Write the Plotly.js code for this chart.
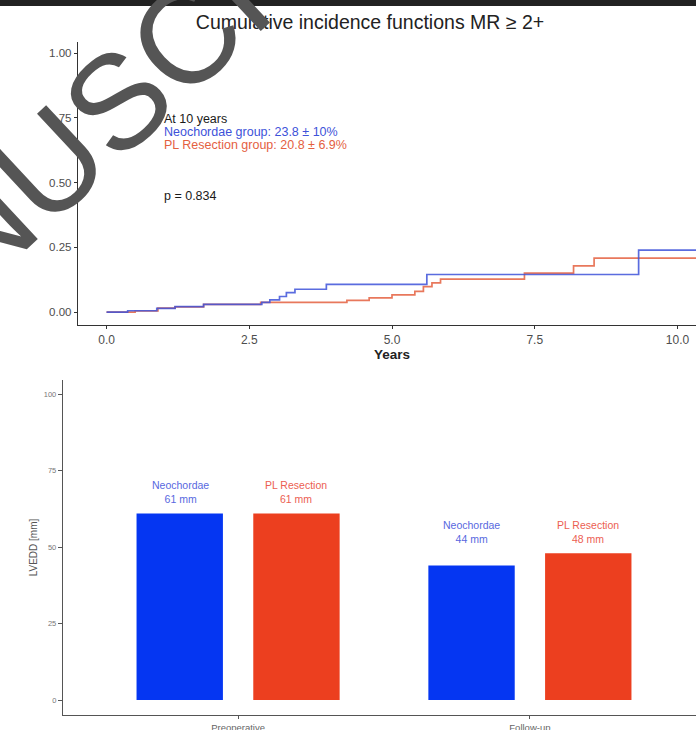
<!DOCTYPE html>
<html>
<head>
<meta charset="utf-8">
<script src="https://cdn.plot.ly/plotly-3.0.1.min.js"></script>
<style>
  html, body { margin: 0; padding: 0; background: #ffffff; overflow: hidden; }
  #chart { width: 712px; height: 730px; }
</style>
</head>
<body>
<div id="chart"></div>
<script>
// ---- Top panel: cumulative incidence (step functions) ----
const neoTime = [0, 0.37, 0.88, 1.2, 1.7, 2.72, 2.86, 3.03, 3.15, 3.3, 3.85, 5.61, 9.32, 10.4];
const neoCif  = [0, 0.005, 0.014, 0.021, 0.03, 0.037, 0.047, 0.06, 0.075, 0.088, 0.107, 0.145, 0.239, 0.239];

const plTime = [0, 0.5, 0.9, 1.2, 1.7, 2.7, 4.21, 4.6, 5.0, 5.4, 5.55, 5.7, 5.85, 7.32, 8.18, 8.54, 10.4];
const plCif  = [0, 0.004, 0.015, 0.02, 0.03, 0.037, 0.045, 0.055, 0.066, 0.08, 0.098, 0.113, 0.127, 0.15, 0.178, 0.208, 0.208];

const cifTickVals = [0, 2.5, 5, 7.5, 10];
const cifTickText = ['0.0', '2.5', '5.0', '7.5', '10.0'];
const cifYTickVals = [0, 0.25, 0.5, 0.75, 1];
const cifYTickText = ['0.00', '0.25', '0.50', '0.75', '1.00'];

// ---- Bottom panel: LVEDD bars ----
const groups = ['Preoperative', 'Follow-up'];
const neoLvedd = [61, 44];
const plLvedd = [61, 48];
const lveddTickVals = [0, 25, 50, 75, 100];

const W = 712, H = 730;
const fx = p => p / W;
const fy = p => 1 - p / H;

const blueLine = '#3d52d9';
const redLine = '#e4603f';
const blueBar = '#0536f2';
const redBar = '#ec3f1f';

const traces = [
  { x: plTime, y: plCif, type: 'scatter', mode: 'lines', line: { shape: 'hv', color: redLine, width: 1.7 }, opacity: 0.85, xaxis: 'x', yaxis: 'y', showlegend: false, hoverinfo: 'skip' },
  { x: neoTime, y: neoCif, type: 'scatter', mode: 'lines', line: { shape: 'hv', color: blueLine, width: 1.7 }, opacity: 0.85, xaxis: 'x', yaxis: 'y', showlegend: false, hoverinfo: 'skip' },
  { x: groups, y: neoLvedd, type: 'bar', name: 'Neochordae', marker: { color: blueBar }, xaxis: 'x2', yaxis: 'y2', showlegend: false, hoverinfo: 'skip' },
  { x: groups, y: plLvedd, type: 'bar', name: 'PL Resection', marker: { color: redBar }, xaxis: 'x2', yaxis: 'y2', showlegend: false, hoverinfo: 'skip' }
];

const font = 'Liberation Sans, Arial, sans-serif';
const annotations = [
  // watermark (drawn first, behind the other texts)
  { text: 'MANUSCRIPT', xref: 'paper', yref: 'paper', x: fx(120), y: fy(98), xanchor: 'center', yanchor: 'middle', showarrow: false, textangle: -43, font: { family: font, size: 134, color: '#555555' } },
  { text: 'At 10 years', xref: 'x', yref: 'y', x: 0.98, y: 0.747, xanchor: 'left', yanchor: 'middle', showarrow: false, font: { family: font, size: 12.5, color: '#1a1a1a' } },
  { text: 'Neochordae group: 23.8 \u00b1 10%', xref: 'x', yref: 'y', x: 0.98, y: 0.697, xanchor: 'left', yanchor: 'middle', showarrow: false, font: { family: font, size: 12.5, color: '#3d52d9' } },
  { text: 'PL Resection group: 20.8 \u00b1 6.9%', xref: 'x', yref: 'y', x: 0.98, y: 0.645, xanchor: 'left', yanchor: 'middle', showarrow: false, font: { family: font, size: 12.5, color: '#e4603f' } },
  { text: 'p = 0.834', xref: 'x', yref: 'y', x: 0.98, y: 0.448, xanchor: 'left', yanchor: 'middle', showarrow: false, font: { family: font, size: 12.5, color: '#1a1a1a' } }
];

groups.forEach((g, i) => {
  const top = Math.max(neoLvedd[i], plLvedd[i]) + 7;
  annotations.push({ text: 'Neochordae<br>' + neoLvedd[i] + ' mm', xref: 'x2', yref: 'y2', x: i, y: top, xshift: -58, xanchor: 'center', yanchor: 'middle', showarrow: false, font: { family: font, size: 10.5, color: '#5868e0' } });
  annotations.push({ text: 'PL Resection<br>' + plLvedd[i] + ' mm', xref: 'x2', yref: 'y2', x: i, y: top, xshift: 58, xanchor: 'center', yanchor: 'middle', showarrow: false, font: { family: font, size: 10.5, color: '#ec5e52' } });
});

const layout = {
  width: W, height: H,
  margin: { l: 0, r: 0, t: 0, b: 0, pad: 0 },
  paper_bgcolor: '#ffffff', plot_bgcolor: '#ffffff',
  font: { family: font, color: '#333' },
  showlegend: false,
  barmode: 'group', bargap: 0.2, bargroupgap: 0.26,
  title: { text: 'Cumulative incidence functions MR \u2265 2+', x: fx(370), xanchor: 'center', y: fy(22), yanchor: 'middle', font: { family: font, size: 19.5, color: '#222' } },
  xaxis: {
    domain: [fx(78), fx(706)], anchor: 'y', range: [-0.5, 10.5],
    tickvals: cifTickVals, ticktext: cifTickText,
    showline: true, linecolor: '#333', linewidth: 1.2, ticks: 'outside', ticklen: 3, tickcolor: '#333', tickwidth: 1,
    showgrid: false, zeroline: false, tickfont: { family: font, size: 12, color: '#4d4d4d' },
    title: { text: '<b>Years</b>', font: { family: font, size: 13.5, color: '#222' }, standoff: 1 }
  },
  yaxis: {
    domain: [fy(325), fy(42)], anchor: 'x', range: [-0.05, 1.043],
    tickvals: cifYTickVals, ticktext: cifYTickText,
    showline: true, linecolor: '#333', linewidth: 1.2, ticks: 'outside', ticklen: 3, tickcolor: '#333', tickwidth: 1,
    showgrid: false, zeroline: false, tickfont: { family: font, size: 11.5, color: '#4d4d4d' }
  },
  xaxis2: {
    domain: [fx(63), fx(705)], anchor: 'y2', type: 'category', range: [-0.6, 1.6],
    showline: true, linecolor: '#555', linewidth: 1.2, ticks: 'outside', ticklen: 3, tickcolor: '#555',
    showgrid: false, zeroline: false, tickfont: { family: font, size: 9.5, color: '#666' }
  },
  yaxis2: {
    domain: [fy(715), fy(380)], anchor: 'x2', range: [-4.9, 104.6],
    tickvals: lveddTickVals,
    showline: true, linecolor: '#555', linewidth: 1.2, ticks: 'outside', ticklen: 4, tickcolor: '#555',
    showgrid: false, zeroline: false, tickfont: { family: font, size: 7.5, color: '#777' },
    title: { text: 'LVEDD [mm]', font: { family: font, size: 10, color: '#555' }, standoff: 4 }
  },
  shapes: [
    { type: 'rect', xref: 'paper', yref: 'paper', x0: 0, x1: 1, y0: fy(6), y1: 1, fillcolor: '#222', line: { width: 0 } }
  ],
  annotations: annotations
};

Plotly.newPlot('chart', traces, layout, { staticPlot: true, displayModeBar: false });
</script>
</body>
</html>
